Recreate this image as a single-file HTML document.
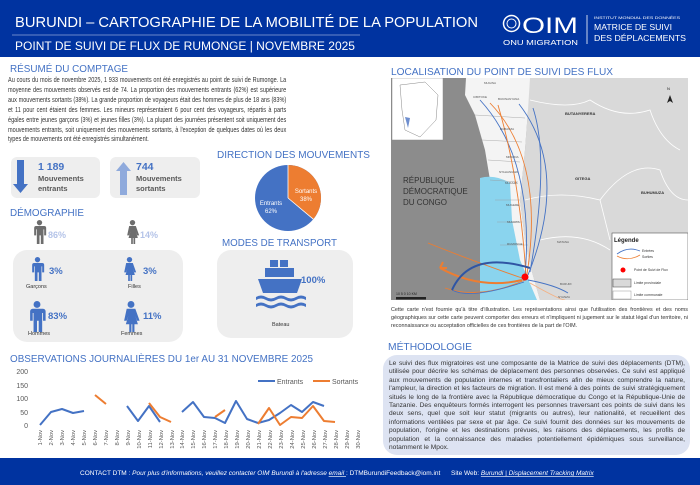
<!DOCTYPE html>
<html><head><meta charset="utf-8">
<style>
body{margin:0;width:700px;height:485px;overflow:hidden;background:#fff;font-family:"Liberation Sans",sans-serif;position:relative}
.p{position:absolute;text-align:justify;color:#333;transform-origin:0 0}
svg{position:absolute;left:0;top:0}
</style></head><body>
<svg width="700" height="485" viewBox="0 0 700 485" font-family="Liberation Sans, sans-serif">
<defs>
<symbol id="man" viewBox="0 0 20 36"><circle cx="10" cy="4" r="4"/><path d="M3 9h14a3 3 0 0 1 3 3v11h-3v-9h-1v22h-4v-13h-2v13h-4v-22h-1v9h-3v-11a3 3 0 0 1 3-3z"/></symbol>
<symbol id="woman" viewBox="0 0 20 36"><circle cx="10" cy="4" r="4"/><path d="M5 9h10l5 14h-3l-2-6 3 10h-4v9h-2.5v-9h-1v9h-2.5v-9h-4l3-10-2 6h-3z"/></symbol>
</defs>
<rect x="0" y="0" width="700" height="57" fill="#0033a0"/>
<text x="15" y="27" font-size="15" fill="#fff" textLength="463" lengthAdjust="spacingAndGlyphs">BURUNDI – CARTOGRAPHIE DE LA MOBILITÉ DE LA POPULATION</text>
<line x1="12" y1="35" x2="360" y2="35" stroke="#8ea4d8" stroke-width="0.8"/>
<text x="15" y="50" font-size="11.5" fill="#fff" textLength="340" lengthAdjust="spacingAndGlyphs">POINT DE SUIVI DE FLUX DE RUMONGE | NOVEMBRE 2025</text>
<circle cx="511.5" cy="23.5" r="8" fill="none" stroke="#fff" stroke-width="1.5"/>
<circle cx="511.5" cy="23.5" r="4.5" fill="none" stroke="#fff" stroke-width="1"/>
<text x="522" y="33" font-size="22" fill="#fff" textLength="56" lengthAdjust="spacingAndGlyphs">OIM</text>
<text x="503" y="45" font-size="7" fill="#fff" textLength="75" lengthAdjust="spacingAndGlyphs">ONU MIGRATION</text>
<line x1="587" y1="15" x2="587" y2="44" stroke="#fff" stroke-width="0.8"/>
<text x="594" y="19" font-size="3.8" fill="#fff" textLength="86" lengthAdjust="spacingAndGlyphs">INSTITUT MONDIAL DES DONNÉES</text>
<text x="594" y="30" font-size="8.5" fill="#fff" textLength="78" lengthAdjust="spacingAndGlyphs">MATRICE DE SUIVI</text>
<text x="594" y="41" font-size="8.5" fill="#fff" textLength="92" lengthAdjust="spacingAndGlyphs">DES DÉPLACEMENTS</text>

<g fill="#4472c4">
<text x="10" y="72" font-size="10" textLength="118" lengthAdjust="spacingAndGlyphs">RÉSUMÉ DU COMPTAGE</text>
<text x="391" y="75" font-size="10" textLength="222" lengthAdjust="spacingAndGlyphs">LOCALISATION DU POINT DE SUIVI DES FLUX</text>
<text x="217" y="158" font-size="10" textLength="153" lengthAdjust="spacingAndGlyphs">DIRECTION DES MOUVEMENTS</text>
<text x="10" y="216" font-size="10.5" textLength="74" lengthAdjust="spacingAndGlyphs">DÉMOGRAPHIE</text>
<text x="222" y="246" font-size="10" textLength="115" lengthAdjust="spacingAndGlyphs">MODES DE TRANSPORT</text>
<text x="10" y="362" font-size="10" textLength="303" lengthAdjust="spacingAndGlyphs">OBSERVATIONS JOURNALIÈRES DU 1er AU 31 NOVEMBRE 2025</text>
<text x="388" y="350" font-size="10.5" textLength="84" lengthAdjust="spacingAndGlyphs">MÉTHODOLOGIE</text>
</g>

<rect x="11" y="157" width="89" height="41" rx="6" fill="#eeeeee"/>
<rect x="110" y="157" width="90" height="41" rx="6" fill="#eeeeee"/>
<path d="M17 160h7v24h4l-7.5 9-7.5-9h4z" fill="#4472c4"/>
<path d="M120 195h7v-24h4l-7.5-9-7.5 9h4z" fill="#8faadc"/>
<g font-weight="bold">
<text x="38" y="170" font-size="10.5" fill="#4472c4">1 189</text>
<text x="38" y="181" font-size="7.5" fill="#595959">Mouvements</text>
<text x="38" y="191" font-size="7.5" fill="#595959">entrants</text>
<text x="136" y="170" font-size="10.5" fill="#4472c4">744</text>
<text x="136" y="181" font-size="7.5" fill="#595959">Mouvements</text>
<text x="136" y="191" font-size="7.5" fill="#595959">sortants</text>
</g>

<circle cx="288" cy="198" r="33" fill="#4472c4"/>
<path d="M288 198V165A33 33 0 0 1 313.3 219.2Z" fill="#ed7d31"/>
<line x1="288" y1="198" x2="288" y2="165" stroke="#fff" stroke-width="0.8"/>
<line x1="288" y1="198" x2="313.3" y2="219.2" stroke="#fff" stroke-width="0.8"/>
<text x="306" y="193" font-size="6" fill="#fff" text-anchor="middle">Sortants</text>
<text x="306" y="201" font-size="6" fill="#fff" text-anchor="middle">38%</text>
<text x="271" y="205" font-size="6" fill="#fff" text-anchor="middle">Entrants</text>
<text x="271" y="213" font-size="6" fill="#fff" text-anchor="middle">62%</text>

<use href="#man" x="32" y="220" width="15" height="24" fill="#6d6d6d"/>
<text x="48" y="238" font-size="9" font-weight="bold" fill="#b4c3e8">86%</text>
<use href="#woman" x="125" y="220" width="15" height="24" fill="#6d6d6d"/>
<text x="140" y="238" font-size="9" font-weight="bold" fill="#b4c3e8">14%</text>
<rect x="13" y="250" width="170" height="92" rx="14" fill="#eeeeee"/>
<use href="#man" x="30" y="257" width="15" height="24" fill="#4472c4"/>
<text x="49" y="274" font-size="9.5" font-weight="bold" fill="#4472c4">3%</text>
<text x="26" y="288" font-size="5.5" fill="#333">Garçons</text>
<use href="#woman" x="122" y="257" width="15" height="24" fill="#4472c4"/>
<text x="143" y="274" font-size="9.5" font-weight="bold" fill="#4472c4">3%</text>
<text x="128" y="288" font-size="5.5" fill="#333">Filles</text>
<use href="#man" x="27" y="301" width="20" height="31" fill="#4472c4"/>
<text x="48" y="319" font-size="9.5" font-weight="bold" fill="#4472c4">83%</text>
<text x="28" y="335" font-size="5.5" fill="#333">Hommes</text>
<use href="#woman" x="121" y="301" width="20" height="31" fill="#4472c4"/>
<text x="143" y="319" font-size="9.5" font-weight="bold" fill="#4472c4">11%</text>
<text x="121" y="335" font-size="5.5" fill="#333">Femmes</text>

<rect x="217" y="250" width="136" height="88" rx="14" fill="#eeeeee"/>
<g fill="#4472c4">
<rect x="270" y="260" width="8" height="7"/><rect x="280" y="260" width="8" height="7"/>
<rect x="265" y="268" width="29" height="9"/>
<path d="M258 279h44l-5 14h-34z"/>
<path d="M256 297q5-3 10 0t10 0 10 0 10 0 10 0v3q-5-3-10 0t-10 0-10 0-10 0-10 0z"/>
<path d="M256 304q5-3 10 0t10 0 10 0 10 0 10 0v3q-5-3-10 0t-10 0-10 0-10 0-10 0z"/>
</g>
<text x="301" y="283" font-size="9.5" font-weight="bold" fill="#4472c4">100%</text>
<text x="272" y="326" font-size="5.5" fill="#333">Bateau</text>

<g font-size="7" fill="#595959" text-anchor="end">
<text x="28" y="374">200</text><text x="28" y="388">150</text><text x="28" y="401">100</text><text x="28" y="415">50</text><text x="28" y="428">0</text>
</g>
<g font-size="5.8" fill="#595959" text-anchor="end">
<text transform="translate(42,430) rotate(-90)">1-Nov</text>
<text transform="translate(53,430) rotate(-90)">2-Nov</text>
<text transform="translate(64,430) rotate(-90)">3-Nov</text>
<text transform="translate(75,430) rotate(-90)">4-Nov</text>
<text transform="translate(86,430) rotate(-90)">5-Nov</text>
<text transform="translate(97,430) rotate(-90)">6-Nov</text>
<text transform="translate(108,430) rotate(-90)">7-Nov</text>
<text transform="translate(119,430) rotate(-90)">8-Nov</text>
<text transform="translate(130,430) rotate(-90)">9-Nov</text>
<text transform="translate(141,430) rotate(-90)">10-Nov</text>
<text transform="translate(152,430) rotate(-90)">11-Nov</text>
<text transform="translate(163,430) rotate(-90)">12-Nov</text>
<text transform="translate(174,430) rotate(-90)">13-Nov</text>
<text transform="translate(184,430) rotate(-90)">14-Nov</text>
<text transform="translate(195,430) rotate(-90)">15-Nov</text>
<text transform="translate(206,430) rotate(-90)">16-Nov</text>
<text transform="translate(217,430) rotate(-90)">17-Nov</text>
<text transform="translate(228,430) rotate(-90)">18-Nov</text>
<text transform="translate(239,430) rotate(-90)">19-Nov</text>
<text transform="translate(250,430) rotate(-90)">20-Nov</text>
<text transform="translate(261,430) rotate(-90)">21-Nov</text>
<text transform="translate(272,430) rotate(-90)">22-Nov</text>
<text transform="translate(283,430) rotate(-90)">23-Nov</text>
<text transform="translate(294,430) rotate(-90)">24-Nov</text>
<text transform="translate(305,430) rotate(-90)">25-Nov</text>
<text transform="translate(316,430) rotate(-90)">26-Nov</text>
<text transform="translate(327,430) rotate(-90)">27-Nov</text>
<text transform="translate(338,430) rotate(-90)">28-Nov</text>
<text transform="translate(349,430) rotate(-90)">29-Nov</text>
<text transform="translate(360,430) rotate(-90)">30-Nov</text>
</g>
<g fill="none" stroke-width="2" stroke-linejoin="round">
<g stroke="#4472c4">
<polyline points="40,425 51,412 62,409 73,413 84,411"/>
<polyline points="127,406 138,421 149,406 160,422"/>
<polyline points="182,412 193,402 204,417 215,418 225,423 236,401 247,419 258,423 269,420 280,413 291,405 302,412 313,402 324,406"/>
</g>
<g stroke="#ed7d31">
<polyline points="95,395 106,404"/>
<polyline points="149,403 160,417 171,422"/>
<polyline points="215,417 225,410"/>
<polyline points="258,424 269,408 280,425 291,417 302,418 313,406 324,421 335,422"/>
</g>
<line x1="258" y1="381" x2="275" y2="381" stroke="#4472c4"/>
<line x1="313" y1="381" x2="330" y2="381" stroke="#ed7d31"/>
</g>
<text x="277" y="384" font-size="7" fill="#595959">Entrants</text>
<text x="332" y="384" font-size="7" fill="#595959">Sortants</text>

<clipPath id="mc"><rect x="391" y="78" width="297" height="222"/></clipPath>
<g clip-path="url(#mc)">
<rect x="391" y="78" width="297" height="222" fill="#8c8c8c"/>
<path d="M528 78H688V300H540L530 265 525 240 520 200 525 150 528 110Z" fill="#d9d9d9"/>
<path d="M466 78H530L528 110 525 150 520 200 525 240 530 265 540 300H500L495 230 490 180 485 150 475 115 465 95Z" fill="#f4f4f4"/>
<path d="M480 178Q495 174 510 183L512 220 520 260 537 300H480Z" fill="#8ad4ee"/>
<g fill="none" stroke="#fff" stroke-width="0.8">
<path d="M530 100Q570 110 590 100 620 120 650 110 660 140 680 150"/>
<path d="M525 200Q560 190 600 200 630 160 660 170 670 200 688 200"/>
<path d="M540 240Q580 230 610 250"/>
<path d="M600 200L610 240"/>
</g>
<g fill="none" stroke="#999" stroke-width="0.4">
<path d="M475 115L525 118M482 140L522 142M488 160L520 162M490 180L518 182M495 200L520 200M497 222L522 222M500 245L528 245"/>
</g>
<g fill="none" stroke-width="0.9">
<path d="M525 276Q535 160 480 100" stroke="#4472c4"/>
<path d="M527 274Q545 160 490 103" stroke="#ed7d31"/>
<path d="M528 275Q570 170 519 104" stroke="#4472c4"/>
<path d="M526 276Q520 180 498 105" stroke="#ed7d31"/>
<path d="M530 272Q550 160 533 108" stroke="#4472c4"/>
<path d="M522 278Q470 260 428 243" stroke="#ed7d31"/>
<path d="M525 280Q480 300 445 288" stroke="#ed7d31"/>
<path d="M524 282Q470 300 452 290" stroke="#4472c4"/>
<path d="M528 280Q555 285 568 293" stroke="#4472c4"/>
<path d="M530 283Q560 300 565 300" stroke="#f4b183"/>
</g>
<path d="M522 280Q480 290 440 268" fill="none" stroke="#ed7d31" stroke-width="2"/>
<path d="M440 268l3-6M440 268l7 0" stroke="#ed7d31" stroke-width="2"/>
<path d="M452 290Q470 250 530 268" fill="none" stroke="#2f55a4" stroke-width="2"/>
<circle cx="525" cy="277" r="3.5" fill="#ff0000"/>
<rect x="392" y="78" width="51" height="62" fill="#fff" stroke="#888" stroke-width="0.5"/>
<path d="M400 85L425 82 438 95 436 120 420 137 405 130 402 110Z" fill="none" stroke="#888" stroke-width="0.5"/>
<path d="M405 117L410 118 408 128Z" fill="#6f8fcf"/>
<rect x="612" y="233" width="76" height="67" fill="#fff" stroke="#555" stroke-width="0.6"/>
<text x="614" y="242" font-size="6" font-weight="bold" fill="#222">Légende</text>
<path d="M617 254Q628 246 640 251" fill="none" stroke="#4472c4" stroke-width="0.8"/>
<path d="M617 256Q628 262 640 255" fill="none" stroke="#ed7d31" stroke-width="0.8"/>
<text x="642" y="252" font-size="3.5" fill="#333">Entrées</text>
<text x="642" y="258" font-size="3.5" fill="#333">Sorties</text>
<circle cx="623" cy="270" r="2.5" fill="#f00"/>
<text x="634" y="271" font-size="3.5" fill="#333">Point de Suivi de Flux</text>
<rect x="613" y="279" width="18" height="8" fill="#d9d9d9" stroke="#444" stroke-width="0.5"/>
<text x="634" y="284" font-size="3.5" fill="#333">Limite provinciale</text>
<rect x="613" y="291" width="18" height="8" fill="#fff" stroke="#999" stroke-width="0.5"/>
<text x="634" y="296" font-size="3.5" fill="#333">Limite communale</text>
<text x="403" y="183" font-size="8" fill="#333">RÉPUBLIQUE</text>
<text x="403" y="194" font-size="8" fill="#333">DÉMOCRATIQUE</text>
<text x="403" y="205" font-size="8" fill="#333">DU CONGO</text>
<g font-size="4" font-weight="bold" fill="#333">
<text x="565" y="115">BUTANYERERA</text><text x="575" y="180">GITEGA</text><text x="641" y="194">BUHUMUZA</text>
</g>
<g font-size="3" fill="#555">
<text x="484" y="84">MUGINA</text><text x="473" y="98">CIBITOKE</text><text x="498" y="100">BUKINANYANA</text><text x="500" y="130">BUBANZA</text><text x="506" y="158">MPANDA</text><text x="499" y="173">NTAHANGWA</text><text x="505" y="184">MUKAZA</text><text x="506" y="206">MUGERE</text><text x="507" y="223">MUHUTA</text><text x="507" y="245">RUMONGE</text><text x="557" y="243">MATANA</text><text x="560" y="285">BURURI</text><text x="558" y="298">NYANZA</text>
</g>
<path d="M670 95l-3 8 3-2 3 2z" fill="#222"/>
<text x="667" y="90" font-size="4" fill="#222">N</text>
<text x="396" y="295" font-size="3.5" fill="#222">10 5 0        10 KM</text>
<rect x="396" y="297" width="30" height="2.5" fill="#222"/>
</g>

<rect x="383" y="355" width="307" height="100" rx="14" fill="#dde3f2"/>

<rect x="0" y="458" width="700" height="27" fill="#0033a0"/>
<text x="80" y="475" font-size="6.5" fill="#fff">CONTACT DTM : <tspan font-style="italic">Pour plus d'informations, veuillez contacter OIM Burundi à l'adresse </tspan><tspan font-style="italic" text-decoration="underline">email </tspan>: DTMBurundiFeedback@iom.int</text>
<text x="451" y="475" font-size="6.5" fill="#fff">Site Web: <tspan font-style="italic" text-decoration="underline">Burundi | Displacement Tracking Matrix</tspan></text>
</svg>

<div class="p" style="left:8px;top:75px;width:371px;font-size:7.4px;line-height:9.9px;transform:scaleX(0.75)">Au cours du mois de novembre 2025, 1 933 mouvements ont été enregistrés au point de suivi de Rumonge. La moyenne des mouvements observés est de 74. La proportion des mouvements entrants (62%) est supérieure aux mouvements sortants (38%). La grande proportion de voyageurs était des hommes de plus de 18 ans (83%) et 11 pour cent étaient des femmes. Les mineurs représentaient 6 pour cent des voyageurs, répartis à parts égales entre jeunes garçons (3%) et jeunes filles (3%). La plupart des journées présentent soit uniquement des mouvements entrants, soit uniquement des mouvements sortants, à l'exception de quelques dates où les deux types de mouvements ont été enregistrés simultanément.</div>
<div class="p" style="left:391px;top:306px;width:297px;font-size:5.4px;line-height:8.2px">Cette carte n'est fournie qu'à titre d'illustration. Les représentations ainsi que l'utilisation des frontières et des noms géographiques sur cette carte peuvent comporter des erreurs et n'impliquent ni jugement sur le statut légal d'un territoire, ni reconnaissance ou acceptation officielles de ces frontières de la part de l'OIM.</div>
<div class="p" style="left:389px;top:360px;width:296px;font-size:6.6px;line-height:8.4px">Le suivi des flux migratoires est une composante de la Matrice de suivi des déplacements (DTM), utilisée pour décrire les schémas de déplacement des personnes observées. Ce suivi est appliqué aux mouvements de population internes et transfrontaliers afin de mieux comprendre la nature, l'ampleur, la direction et les facteurs de migration. Il est mené à des points de suivi stratégiquement situés le long de la frontière avec la République démocratique du Congo et la République-Unie de Tanzanie. Des enquêteurs formés interrogent les personnes traversant ces points de suivi dans les deux sens, quel que soit leur statut (migrants ou autres), leur nationalité, et recueillent des informations ventilées par sexe et par âge. Ce suivi fournit des données sur les mouvements de population, l'origine et les destinations prévues, les raisons des déplacements, les profils de population et la connaissance des maladies potentiellement épidémiques sous surveillance, notamment le Mpox.</div>
</body></html>
